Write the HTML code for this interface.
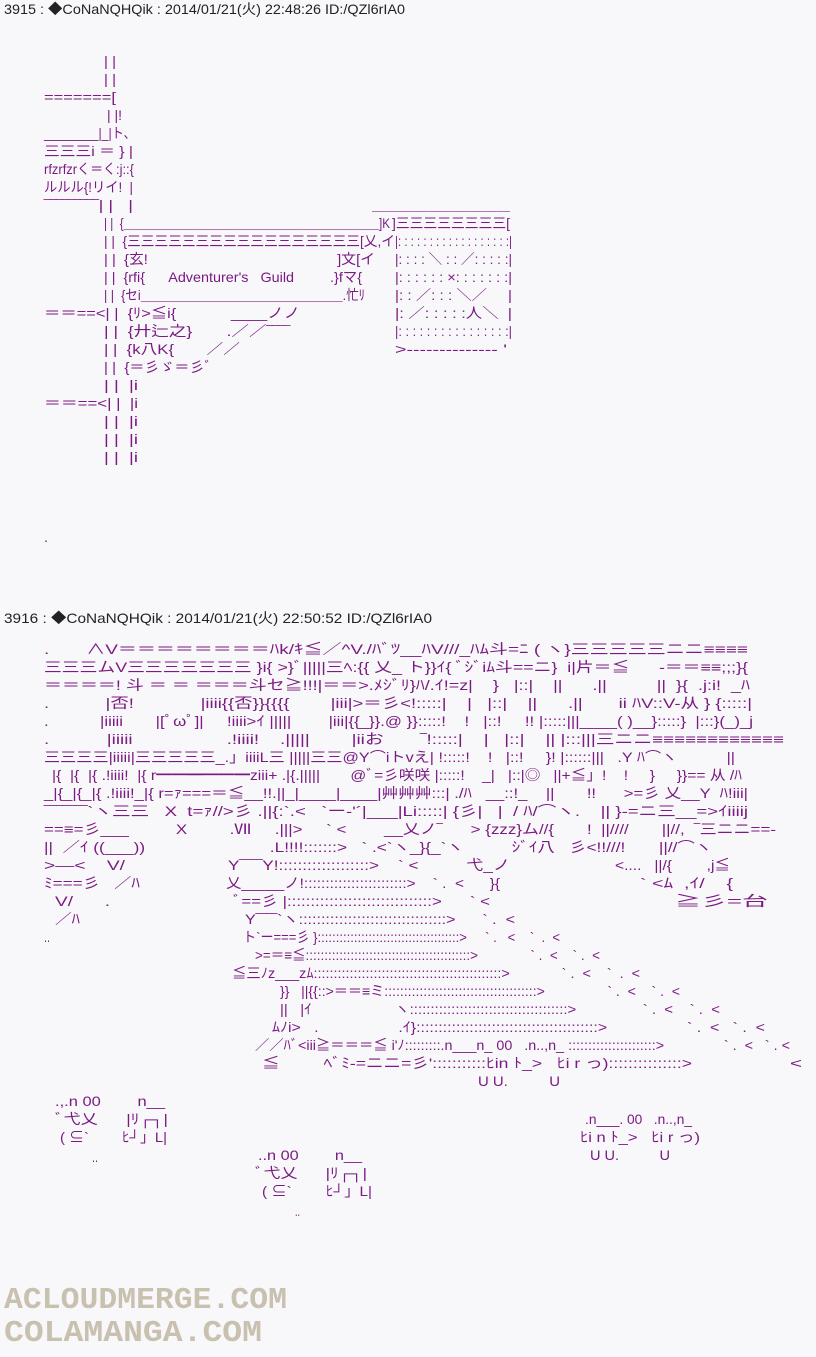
<!DOCTYPE html>
<html><head><meta charset="utf-8"><style>
body{margin:0;width:816px;height:1357px;background:#f8f8fa;position:relative;overflow:hidden;font-family:"Liberation Sans","Noto Sans CJK JP",sans-serif;}
.s{position:absolute;white-space:pre;font-size:14px;line-height:18px;color:#7a1a82;transform-origin:0 0;}
.h{color:#222;font-size:14px}
.w{font-family:"Liberation Mono",monospace;font-weight:bold;font-size:31px;line-height:32px;color:#c9c1b0}
</style></head><body>
<script>
var L=[
[0,4,405,"3915 : ◆CoNaNQHQik : 2014/01/21(火) 22:48:26 ID:/QZl6rIA0","h"],
[609,4,432,"3916 : ◆CoNaNQHQik : 2014/01/21(火) 22:50:52 ID:/QZl6rIA0","h"],
[52,104,116,"| |"],[70,104,116,"| |"],[88,44,116,"=======["],[106,107,122,"| |!"],
[124,44,130,"________|_|ト､"],[142,44,133,"三三三i ＝ } |"],[160,44,134,"rfzrfzrく＝く:j::{"],
[178,44,133,"ルルル{!リイ!  |"],[196,44,133,"‾‾‾‾‾‾‾‾‾| |   |"],
[196,372,510,"＿＿＿＿＿＿＿＿＿＿"],
[214,104,390,"| |  {＿＿＿＿＿＿＿＿＿＿＿＿＿＿＿＿＿＿＿＿＿＿]K"],[214,392,510,"]三三三三三三三三["],
[232,104,395,"| |  {三三三三三三三三三三三三三三三三三[乂,イ"],[232,395,512,"|: : : : : : : : : : : : : : : : : :|"],
[250,104,375,"| |  {玄!                                              ]文[イ"],[250,395,512,"|: : : : ＼ : : ／: : : : :|"],
[268,104,362,"| |  {rfi{      Adventurer's   Guild         .}fマ{"],[268,395,512,"|: : : : : : ×: : : : : : :|"],
[286,104,365,"| |  {セi＿＿＿＿＿＿＿＿＿＿＿＿＿＿＿＿.忙ﾘ"],[286,395,512,"|: : ／: : : ＼／     |"],
[304,44,300,"＝＝==<| |  {ﾘ>≦i{            ____ノノ"],[304,395,512,"|: ／: : : : :人＼  |"],
[322,104,290,"| |  {廾辷之}       .／／‾‾‾‾"],[322,395,512,"|: : : : : : : : : : : : : : : :|"],
[340,104,240,"| |  {k八K{       ／／"],[340,395,507,">-------------- '"],
[358,104,212,"| |  {＝彡ゞ＝彡ﾞ"],[376,104,138,"| |  |i"],[394,44,138,"＝＝==<| |  |i"],
[412,104,138,"| |  |i"],[430,104,138,"| |  |i"],[448,104,138,"| |  |i"],
[528,44,48,"."],
[640,44,748,".       ∧V＝＝＝＝＝＝＝＝ﾊk/ｷ≦／^V./ﾊﾞﾂ__ﾊV///_ﾊﾑ斗=ﾆ ( ヽ}三三三三三ニニ≡≡≡≡"],
[658,44,748,"三三三ムV三三三三三三三 }i{ >}ﾞ|||||三ﾍ:{{ 乂_ ト}}ｲ{ ﾞｼﾞiﾑ斗==ニ}  i|片＝≦      -＝＝≡≡;;;}{"],
[676,44,750,"＝＝＝＝! 斗 ＝ ＝ ＝＝＝斗セ≧!!!|＝＝>.ﾒｼﾞﾘ}ﾊ/.ｲ!=z|    }   |::|    ||      .||          ||  }{  .j:i!  _ﾊ"],
[694,44,752,".           |否!             |iiii{{否}}{{{{        |iii|>＝彡<!:::::|    |   |::|    ||      .||       ii ﾊV::V-从 } {:::::|"],
[712,44,753,".           |iiiii       |[ﾟωﾟ]|     !iiii>ｲ |||||        |iii|{{_}}.@ }}:::::!    !   |::!     !! |:::::|||____( )__}:::::}  |:::}(_)_j"],
[730,44,784,".           |iiiii                  .!iiii!    .|||||        |iiお       ‾!:::::|    |   |::|    || |:::|||三ニニ≡≡≡≡≡≡≡≡≡≡≡≡"],
[748,44,735,"三三三三|iiiii|三三三三三_.」iiiiL三 |||||三三@Y⌒iトvえ| !:::::!    !   |::!     }! |::::::|||   .Y ﾊ⌒ヽ           ||"],
[766,52,742,"|{  |{  |{ .!iiii!  |{ r━━━━━━ziii+ .|{.|||||       @ﾞ=彡咲咲 |:::::!    _|   |::|◎   ||+≦」!    !     }     }}== 从 /ﾊ"],
[784,44,748,"_|{_|{_|{ .!iiii!_|{ r=ｧ===＝≦__!!.||_|____|____|艸艸艸:::| ./ﾊ   __::!_    ||       !!      >=彡 乂__Y  ﾊ!iii|"],
[802,44,748,"‾‾‾‾‾‾‾`ヽ三三   X  t=ｧ//>彡 .||{:`.<   `ー‐'´|___|Li:::::| {彡|   |  / ﾊ/⌒ヽ.    || }-=ニ三__=>ｲiiiij"],
[820,44,776,"==≡=彡___          X         .Ⅶ     .|||>     ` <        __乂ノ‾      > {zzz}ム//{       !  ||////       ||//,  ‾三ニニ==-"],
[838,44,712,"||  ／ｲ ((___))                          .L!!!!:::::::>   ` .<`ヽ_}{_`ヽ          ｼﾞｲ八   彡<!!///!       ||//⌒ヽ"],
[856,44,125,">―<    V/"],[856,228,510,"Y‾‾‾‾Y!:::::::::::::::::::>    ` <          弋_ノ"],[856,615,730,"<....   ||/{        ,j≦"],
[874,44,140,"ﾐ===彡   ／ﾊ"],[874,226,500,"乂_____ノ!::::::::::::::::::::::::>    ` .  <      }{"],[874,640,733,"` <ﾑ  ,ｲ/    {"],
[892,55,110,"V/      ."],[892,233,490,"ﾞ==彡 |:::::::::::::::::::::::::::::::>      ` <"],[892,675,768,"≧彡=台"],
[910,55,80,"／ﾊ"],[910,245,515,"Y‾‾‾‾`ヽ:::::::::::::::::::::::::::::::::>      ` .  <"],
[928,44,50,".."],[928,243,560,"ト`ー===彡 }:::::::::::::::::::::::::::::::::::::::>     ` .   <    `  .  <"],
[946,255,600,">=＝≡≦::::::::::::::::::::::::::::::::::::::::::::>              ` .  <    ` .  <"],
[964,232,640,"≦三ﾉz___zﾑ:::::::::::::::::::::::::::::::::::::::::::::::>             ` .  <    `  .  <"],
[982,280,680,"}}   ||{{::>＝＝≡ミ:::::::::::::::::::::::::::::::::::::::>                ` .  <    ` .  <"],
[1000,280,720,"||   |ｲ                    ヽ::::::::::::::::::::::::::::::::::::::>                ` .  <    ` .  <"],
[1018,272,765,"ﾑﾉi>   .                  .ｲ}:::::::::::::::::::::::::::::::::::::::::>                  ` .  <   ` .  <"],
[1036,255,790,"／／ﾊﾞ<iii≧＝＝＝≦ i'ﾉ:::::::::.n___n_ 00   .n..,n_ ::::::::::::::::::::::>               ` .  <   ` . <"],
[1054,262,692,"≦         ﾍﾞﾐ-=ニニ=彡':::::::::::ﾋin ﾄ_>   ﾋi r っ):::::::::::::::>"],[1054,790,802,"<"],
[1072,478,560,"U U.          U"],
[1092,55,165,".,.n 00        n__"],[1110,55,168,"ﾞ弋乂      |ﾘ┌┐|"],[1128,60,167,"( ⊆`        ﾋ┘」L|"],[1148,92,98,".."],
[1110,585,692,".n___. 00   .n..,n_"],[1128,580,700,"ﾋi n ﾄ_>   ﾋi r っ)"],[1146,590,670,"U U.          U"],
[1146,258,362,"..n 00        n__"],[1164,255,367,"ﾞ弋乂      |ﾘ┌┐|"],[1182,262,372,"( ⊆`        ﾋ┘」L|"],[1202,295,300,".."],
[1285,4,287,"ACLOUDMERGE.COM","w"],[1318,4,262,"COLAMANGA.COM","w"]
];
L.forEach(function(a){var d=document.createElement('div');d.className='s'+(a[4]?' '+a[4]:'');d.style.top=a[0]+'px';d.style.left=a[1]+'px';d.textContent=a[3];document.body.appendChild(d);var w=d.getBoundingClientRect().width;if(w>0){d.style.transform='scaleX('+((a[2]-a[1])/w)+')';}});
</script>
</body></html>
